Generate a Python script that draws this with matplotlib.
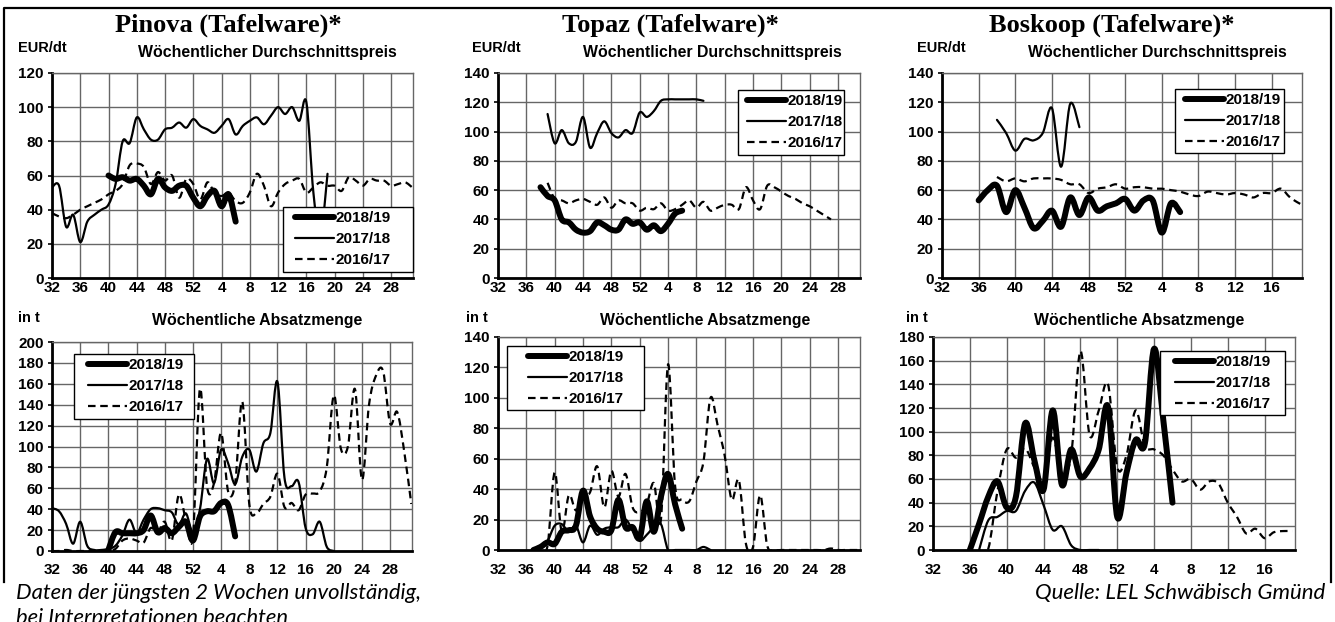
import matplotlib
matplotlib.use('Agg')
import matplotlib.pyplot as plt
import numpy as np
from matplotlib.path import Path
from matplotlib.patches import PathPatch, Rectangle
from matplotlib.lines import Line2D

plt.rcParams['font.family'] = ['Liberation Sans', 'DejaVu Sans']

W, H = 1335, 622
SEASONS = ['2018/19', '2017/18', '2016/17']

# x-Achse: Kalenderwochen 32 .. 31 des Folgejahres
week_ticks = [32, 36, 40, 44, 48, 52, 4, 8, 12, 16, 20, 24, 28]

# --- Pinova: Preis (EUR/dt), Startwoche + Wochenwerte ---
pin_p_1819_start = 40
pin_p_1819 = [60, 58, 59, 57, 58, 54, 49, 58, 53, 51, 54, 54, 47,
              42, 48, 51, 42, 49, 33]
pin_p_1718_start = 32
pin_p_1718 = [53, 54, 30, 37, 21, 33, 37, 40, 43, 55, 80, 79, 94, 87, 81, 81, 87, 88, 91, 88, 93,
              89, 87, 85, 89, 93, 84, 89, 92, 94, 90, 95, 100, 96, 100, 92, 103, 50, 25, 61]
pin_p_1617_start = 32
pin_p_1617 = [38, 36, 35, 37, 40, 42, 44, 46, 49, 51, 55, 66, 67, 65, 55, 62, 57, 60, 47, 58, 55,
              46, 56, 50, 48, 50, 45, 44, 50, 61, 54, 42, 50, 55, 57, 58, 50, 53, 56, 54, 54,
              51, 59, 57, 54, 58, 57, 57, 54, 55, 56, 53]

# --- Topaz: Preis ---
top_p_1819_start = 38
top_p_1819 = [62, 56, 53, 40, 38, 33, 31, 32, 38, 36, 33, 33, 40, 37, 38,
              33, 36, 32, 37, 44, 46]
top_p_1718_start = 39
top_p_1718 = [112, 92, 101, 92, 93, 110, 89, 99, 107, 99, 96, 101, 99, 113,
              110, 114, 121, 122, 122, 122, 122, 122, 121]
top_p_1617_start = 39
top_p_1617 = [65, 54, 53, 51, 53, 54, 52, 50, 55, 48, 53, 51, 51, 46,
              48, 47, 51, 46, 47, 50, 53, 48, 52, 46, 48, 50, 50, 47, 62, 53, 47, 63, 62, 59,
              56, 54, 51, 49, 46, 43, 40]

# --- Boskoop: Preis ---
bos_p_1819_start = 36
bos_p_1819 = [53, 60, 63, 45, 60, 48, 34, 39, 46, 35, 55, 43, 55, 46, 49, 51, 54,
              46, 53, 53, 31, 51, 45]
bos_p_1718_start = 38
bos_p_1718 = [108, 99, 87, 95, 94, 99, 116, 76, 119, 103]
bos_p_1617_start = 38
bos_p_1617 = [69, 66, 68, 66, 68, 68, 68, 67, 64, 64, 58, 61, 62, 64, 61,
              62, 62, 61, 61, 60, 59, 57, 56, 59, 58, 57, 58, 57, 55, 58, 58, 61, 55, 51, 48]

# --- Pinova: Absatzmenge (t) ---
pin_q_1819_start = 40
pin_q_1819 = [1, 18, 17, 17, 17, 20, 34, 18, 22, 17, 23, 28, 10,
              33, 38, 38, 46, 44, 14]
pin_q_1718_start = 32
pin_q_1718 = [41, 38, 26, 7, 28, 5, 1, 1, 2, 5, 15, 30, 17, 30, 40, 41, 39, 37, 25, 36, 18,
              40, 88, 65, 97, 84, 64, 90, 97, 76, 103, 113, 162, 70, 62, 66, 22, 16, 28, 4, 0]
pin_q_1617_start = 32
pin_q_1617 = [0, 0, 1, 0, 0, 0, 0, 0, 0, 2, 10, 12, 10, 8, 22, 18, 28, 10, 54, 30, 14,
              155, 62, 65, 113, 57, 65, 143, 45, 36, 45, 52, 74, 42, 46, 39, 54, 55, 57, 80, 149,
              98, 100, 155, 68, 140, 168, 172, 122, 133, 95, 45]

# --- Topaz: Absatzmenge ---
top_q_1819_start = 37
top_q_1819 = [0, 2, 5, 4, 12, 13, 16, 39, 22, 14, 12, 13, 33, 15, 15, 8,
              32, 12, 35, 50, 30, 14]
top_q_1718_start = 37
top_q_1718 = [0, 1, 6, 16, 17, 12, 16, 5, 16, 10, 14, 15, 15, 20, 13, 6,
              10, 15, 17, 0, 0, 0, 0, 0, 2, 0]
top_q_1617_start = 37
top_q_1617 = [0, 0, 3, 51, 12, 36, 26, 35, 38, 55, 28, 52, 35, 50, 28, 25,
              30, 44, 20, 122, 42, 33, 32, 45, 58, 100, 82, 62, 33, 46, 4, 2, 36, 3, 0, 0,
              0, 0, 0, 0, 0, 0, 1, 0, 0, 0, 0]

# --- Boskoop: Absatzmenge ---
bos_q_1819_start = 36
bos_q_1819 = [0, 22, 45, 58, 36, 45, 107, 76, 51, 118, 55, 85, 62, 69, 85, 121, 28,
              65, 93, 90, 170, 110, 40]
bos_q_1718_start = 37
bos_q_1718 = [0, 25, 28, 33, 33, 50, 57, 38, 17, 20, 4, 0, 0, 0]
bos_q_1617_start = 37
bos_q_1617 = [0, 1, 50, 85, 78, 86, 70, 60, 95, 65, 80, 168, 97, 118, 140, 70,
              80, 118, 88, 85, 80, 68, 58, 60, 51, 58, 56, 40, 28, 14, 18, 10, 15, 16, 16]

STYLE = {
    '2018/19': dict(lw=4.3, ls='-', capstyle='round', zorder=5),
    '2017/18': dict(lw=1.6, ls='-', capstyle='round', zorder=4),
    '2016/17': dict(lw=1.6, ls=(0, (3.4, 2.1)), capstyle='butt', zorder=3),
}
GRID = '#666666'


def wk2idx(w):
    return w - 32 if w >= 32 else w + 20


def smooth_path(x, y):
    """geglättete Linie wie in Excel (Bezier aus Catmull-Rom)"""
    pts = np.column_stack([x, y]).astype(float)
    n = len(pts)
    verts = [pts[0]]
    codes = [Path.MOVETO]
    for i in range(n - 1):
        p0 = pts[i - 1] if i > 0 else pts[i]
        p1, p2 = pts[i], pts[i + 1]
        p3 = pts[i + 2] if i + 2 < n else pts[i + 1]
        verts += [p1 + (p2 - p0) / 6, p2 - (p3 - p1) / 6, p2]
        codes += [Path.CURVE4] * 3
    return Path(verts, codes)


def px_rect(x0, y0, x1, y1):
    return [x0 / W, 1 - y1 / H, (x1 - x0) / W, (y1 - y0) / H]


fig = plt.figure(figsize=(W / 100, H / 100), dpi=100)
fig.patch.set_facecolor('white')


def panel(rect, series, xmax, ymax, ystep, xlab_pad, legbox, lpad):
    ax = fig.add_axes(px_rect(*rect))
    for label in ['2016/17', '2017/18', '2018/19']:
        start, vals = series[label]
        x = wk2idx(start) + np.arange(len(vals))
        st = STYLE[label]
        ax.add_patch(PathPatch(smooth_path(x, vals), fill=False, edgecolor='black',
                               lw=st['lw'], ls=st['ls'], capstyle=st['capstyle'],
                               joinstyle='round', zorder=st['zorder']))
    ax.set_xlim(0, xmax)
    ax.set_ylim(0, ymax)
    ticks = [t for t in range(0, int(xmax) + 1, 4)]
    ax.set_xticks(ticks)
    ax.set_xticklabels([str(week_ticks[i // 4]) for i in ticks])
    ax.set_yticks(np.arange(0, ymax + 1, ystep))
    ax.grid(True, color=GRID, lw=1.0)
    ax.set_axisbelow(True)
    for s in ['left', 'bottom']:
        ax.spines[s].set_linewidth(2)
        ax.spines[s].set_color('black')
    for s in ['top', 'right']:
        ax.spines[s].set_linewidth(1)
        ax.spines[s].set_color(GRID)
    ax.tick_params(axis='y', direction='out', length=3, width=1.2, pad=3, labelsize=11)
    ax.tick_params(axis='x', length=0, pad=xlab_pad, labelsize=11)
    for t in ax.get_xticklabels() + ax.get_yticklabels():
        t.set_fontweight('bold')

    # Legendenkasten (Excel-Stil)
    bx0, by0, bx1, by1 = legbox
    fig.add_artist(Rectangle((bx0 / W, 1 - by1 / H), (bx1 - bx0) / W, (by1 - by0) / H,
                             transform=fig.transFigure, facecolor='white',
                             edgecolor='black', lw=1.0, zorder=5))
    handles = [Line2D([], [], color='black', lw=STYLE[s]['lw'], ls=STYLE[s]['ls'],
                      solid_capstyle='round') for s in SEASONS]
    leg = fig.legend(handles, SEASONS, loc='upper left',
                     bbox_to_anchor=((bx0 + lpad) / W, 1 - (by0 + 4) / H),
                     bbox_transform=fig.transFigure, frameon=False,
                     prop=dict(weight='bold', size=11), handlelength=2.55,
                     handletextpad=0.1, borderpad=0, labelspacing=0.46,
                     borderaxespad=0)
    leg.set_zorder(6)
    return ax


# obere Reihe: Preise
panel((52, 73, 413, 278),
      {'2018/19': (pin_p_1819_start, pin_p_1819), '2017/18': (pin_p_1718_start, pin_p_1718),
       '2016/17': (pin_p_1617_start, pin_p_1617)}, 51.1, 120, 20, 2,
      (283, 207, 413, 272), 12)
panel((498, 73, 860, 278),
      {'2018/19': (top_p_1819_start, top_p_1819), '2017/18': (top_p_1718_start, top_p_1718),
       '2016/17': (top_p_1617_start, top_p_1617)}, 51.1, 140, 20, 2,
      (738, 90, 844, 155), 9)
panel((942, 73, 1302, 278),
      {'2018/19': (bos_p_1819_start, bos_p_1819), '2017/18': (bos_p_1718_start, bos_p_1718),
       '2016/17': (bos_p_1617_start, bos_p_1617)}, 39.3, 140, 20, 2,
      (1175, 89, 1284, 153), 10)

# untere Reihe: Mengen
panel((52, 342, 412, 551),
      {'2018/19': (pin_q_1819_start, pin_q_1819), '2017/18': (pin_q_1718_start, pin_q_1718),
       '2016/17': (pin_q_1617_start, pin_q_1617)}, 51.1, 200, 20, 9,
      (74, 354, 194, 419), 14)
panel((498, 337, 860, 550),
      {'2018/19': (top_q_1819_start, top_q_1819), '2017/18': (top_q_1718_start, top_q_1718),
       '2016/17': (top_q_1617_start, top_q_1617)}, 51.1, 140, 20, 9,
      (507, 346, 644, 410), 21)
panel((933, 337, 1295, 550),
      {'2018/19': (bos_q_1819_start, bos_q_1819), '2017/18': (bos_q_1718_start, bos_q_1718),
       '2016/17': (bos_q_1617_start, bos_q_1617)}, 39.3, 180, 20, 9,
      (1160, 351, 1285, 415), 15)


def ftext(x, y, s, **kw):
    fig.text(x / W, 1 - y / H, s, **kw)


# Titel
for cx, name in [(228, 'Pinova (Tafelware)*'), (670, 'Topaz (Tafelware)*'),
                 (1112, 'Boskoop (Tafelware)*')]:
    ftext(cx, 25, name, ha='center', va='center', fontsize=19, fontweight='bold',
          family='Liberation Serif')

for x0, cx in [(18, 267), (472, 712), (917, 1157)]:
    ftext(x0, 48, 'EUR/dt', ha='left', va='center', fontsize=10.5, fontweight='bold')
    ftext(cx, 52, 'Wöchentlicher Durchschnittspreis', ha='center', va='center',
          fontsize=11.4, fontweight='bold')

for x0, cx in [(18, 257), (466, 705), (906, 1139)]:
    ftext(x0, 318, 'in t', ha='left', va='center', fontsize=10.5, fontweight='bold')
    ftext(cx, 321, 'Wöchentliche Absatzmenge', ha='center', va='center',
          fontsize=11.4, fontweight='bold')

# Fußnoten
ftext(16, 593, 'Daten der jüngsten 2 Wochen unvollständig,', ha='left', va='center',
      fontsize=15.8, style='italic', family='Lato')
ftext(16, 618, 'bei Interpretationen beachten', ha='left', va='center',
      fontsize=15.8, style='italic', family='Lato')
ftext(1325, 593, 'Quelle: LEL Schwäbisch Gmünd', ha='right', va='center',
      fontsize=16, style='italic', family='Lato')

# Rahmen
fig.add_artist(Line2D([4 / W, 4 / W, 1331 / W, 1331 / W],
                      [1 - 582 / H, 1 - 8 / H, 1 - 8 / H, 1 - 582 / H],
                      transform=fig.transFigure, color='black', lw=1.6))

fig.savefig('out.png', dpi=100)
